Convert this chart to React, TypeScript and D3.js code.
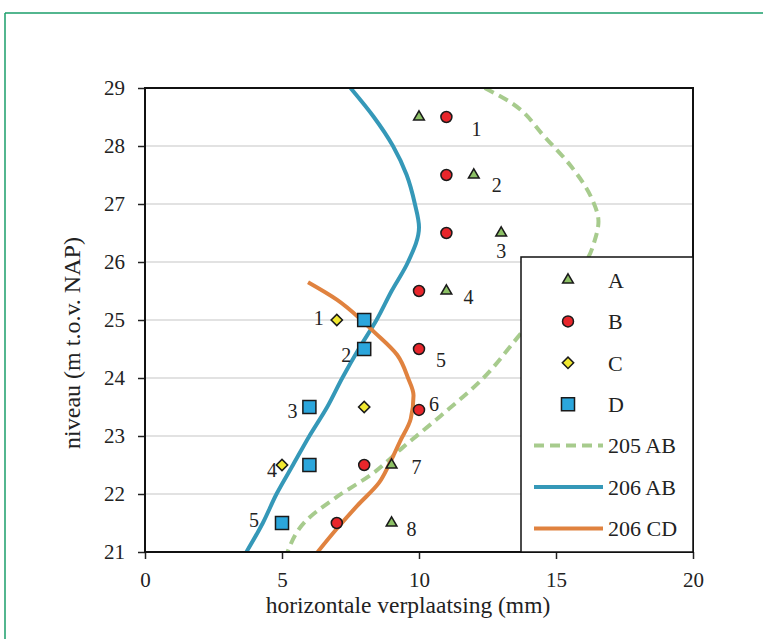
import React, { useEffect, useRef } from 'react';
import * as d3 from 'd3';

// meetpunten (x = verplaatsing mm, y = niveau m NAP)
const seriesA = [
  { x: 10, y: 28.5 }, { x: 12, y: 27.5 }, { x: 13, y: 26.5 }, { x: 11, y: 25.5 },
  { x: 9, y: 22.5 }, { x: 9, y: 21.5 },
];
const seriesB = [
  { x: 11, y: 28.5 }, { x: 11, y: 27.5 }, { x: 11, y: 26.5 }, { x: 10, y: 25.5 },
  { x: 10, y: 24.5 }, { x: 10, y: 23.45 }, { x: 8, y: 22.5 }, { x: 7, y: 21.5 },
];
const seriesC = [{ x: 7, y: 25 }, { x: 8, y: 23.5 }, { x: 5, y: 22.5 }];
const seriesD = [
  { x: 8, y: 25 }, { x: 8, y: 24.5 }, { x: 6, y: 23.5 }, { x: 6, y: 22.5 }, { x: 5, y: 21.5 },
];

// berekende lijnen
const line205AB = [
  { x: 12.4, y: 29 }, { x: 13.35, y: 28.75 }, { x: 14.6, y: 28.15 }, { x: 15.55, y: 27.65 },
  { x: 16.3, y: 27.1 }, { x: 16.55, y: 26.7 }, { x: 16.4, y: 26.35 }, { x: 16.2, y: 26.1 },
  { x: 15.4, y: 25.6 }, { x: 14.3, y: 25.1 }, { x: 13.6, y: 24.7 }, { x: 12.35, y: 24.0 },
  { x: 10.8, y: 23.35 }, { x: 9.4, y: 22.8 }, { x: 8.3, y: 22.35 }, { x: 7.0, y: 21.95 },
  { x: 5.9, y: 21.55 }, { x: 5.2, y: 21 },
];
const line206AB = [
  { x: 7.5, y: 29 }, { x: 8.35, y: 28.5 }, { x: 9.05, y: 28 }, { x: 9.55, y: 27.5 },
  { x: 9.85, y: 27 }, { x: 10.0, y: 26.6 }, { x: 9.6, y: 26 }, { x: 9.0, y: 25.5 },
  { x: 8.45, y: 25 }, { x: 7.8, y: 24.5 }, { x: 7.2, y: 24 }, { x: 6.65, y: 23.5 },
  { x: 6.0, y: 23 }, { x: 5.4, y: 22.5 }, { x: 4.8, y: 22 }, { x: 4.3, y: 21.5 }, { x: 3.7, y: 21 },
];
const line206CD = [
  { x: 5.95, y: 25.65 }, { x: 7.0, y: 25.35 }, { x: 7.9, y: 25.0 }, { x: 8.35, y: 24.8 },
  { x: 9.2, y: 24.4 }, { x: 9.6, y: 24.0 }, { x: 9.8, y: 23.7 }, { x: 9.7, y: 23.3 },
  { x: 9.3, y: 22.9 }, { x: 8.9, y: 22.5 }, { x: 8.55, y: 22.2 }, { x: 7.75, y: 21.8 },
  { x: 7.0, y: 21.4 }, { x: 6.3, y: 21 },
];

const xTicks = [0, 5, 10, 15, 20];
const yTicks = [21, 22, 23, 24, 25, 26, 27, 28, 29];

// nummering bij de punten: [reeks, index, tekst, dx, dy]
const pointLabels: [string, number, string, number, number][] = [
  ['B', 0, '1', 30, 12], ['A', 1, '2', 23, 10], ['A', 2, '3', 0, 18], ['A', 3, '4', 22, 6],
  ['B', 4, '5', 22, 11], ['B', 5, '6', 15, -6], ['A', 4, '7', 25, 2], ['A', 5, '8', 20, 6],
  ['C', 0, '1', -18, -2], ['D', 1, '2', -18, 6], ['D', 2, '3', -17, 4], ['C', 2, '4', -10, 5],
  ['D', 4, '5', -28, -3],
];

const App: React.FC = () => {
  const ref = useRef<SVGSVGElement | null>(null);

  useEffect(() => {
    if (!ref.current) return;
    const svg = d3.select(ref.current);
    svg.selectAll('*').remove();
    const font = '"Liberation Serif", "Times New Roman", serif';

    const left = 145, right = 693, top = 88, bottom = 552;
    const x = d3.scaleLinear().domain([0, 20]).range([left, right]);
    const y = d3.scaleLinear().domain([21, 29]).range([bottom, top]);

    // groene kader
    svg.append('line').attr('x1', 5).attr('x2', 763).attr('y1', 13).attr('y2', 13)
      .attr('stroke', '#1a9e6a').attr('stroke-width', 1.5);
    svg.append('line').attr('x1', 5).attr('x2', 5).attr('y1', 13).attr('y2', 639)
      .attr('stroke', '#1a9e6a').attr('stroke-width', 1.5);

    // rasterlijnen
    svg.append('g').selectAll('line').data(yTicks.filter(t => t > 21 && t < 29)).enter()
      .append('line')
      .attr('x1', left).attr('x2', right)
      .attr('y1', d => y(d)).attr('y2', d => y(d))
      .attr('stroke', '#d9d9d9').attr('stroke-width', 1.5);

    // assen
    const yAxis = svg.append('g').attr('transform', `translate(${left},0)`)
      .call(d3.axisLeft(y).tickValues(yTicks).tickSize(7).tickFormat(d3.format('d')));
    const xAxis = svg.append('g').attr('transform', `translate(0,${bottom})`)
      .call(d3.axisBottom(x).tickValues(xTicks).tickSize(7).tickFormat(d3.format('d')));
    [yAxis, xAxis].forEach(a => {
      a.select('.domain').remove();
      a.selectAll('line').attr('stroke', '#222').attr('stroke-width', 1.5);
      a.selectAll('text').attr('fill', '#222')
        .style('font-family', font).style('font-size', '21px');
    });
    yAxis.selectAll('text').attr('x', -20);
    xAxis.selectAll('text').attr('y', 20);

    svg.append('defs').append('clipPath').attr('id', 'plotclip')
      .append('rect').attr('x', left).attr('y', top).attr('width', right - left).attr('height', bottom - top);

    const line = d3.line<{ x: number; y: number }>()
      .x(d => x(d.x)).y(d => y(d.y)).curve(d3.curveMonotoneY);

    const lines = svg.append('g').attr('clip-path', 'url(#plotclip)');
    lines.append('path').datum(line205AB).attr('d', line).attr('fill', 'none')
      .attr('stroke', '#a7cb8d').attr('stroke-width', 4).attr('stroke-dasharray', '10,6');
    lines.append('path').datum(line206AB).attr('d', line).attr('fill', 'none')
      .attr('stroke', '#3598b8').attr('stroke-width', 4);
    lines.append('path').datum(line206CD).attr('d', line).attr('fill', 'none')
      .attr('stroke', '#e0823f').attr('stroke-width', 4);

    // plotrand
    svg.append('rect').attr('x', left).attr('y', top).attr('width', right - left).attr('height', bottom - top)
      .attr('fill', 'none').attr('stroke', '#111').attr('stroke-width', 2);

    const sym: Record<string, { type: d3.SymbolType; size: number; fill: string; rot: number }> = {
      A: { type: d3.symbolTriangle, size: 50, fill: '#8cc065', rot: 0 },
      B: { type: d3.symbolCircle, size: 95, fill: '#e8262b', rot: 0 },
      C: { type: d3.symbolSquare, size: 64, fill: '#f0e830', rot: 45 },
      D: { type: d3.symbolSquare, size: 170, fill: '#2ba6dc', rot: 0 },
    };
    const allSeries: Record<string, { x: number; y: number }[]> = {
      A: seriesA, B: seriesB, C: seriesC, D: seriesD,
    };

    const drawSym = (g: d3.Selection<SVGGElement, unknown, null, undefined>, key: string, px: number, py: number) => {
      const s = sym[key];
      g.append('path')
        .attr('d', d3.symbol().type(s.type).size(s.size)()!)
        .attr('transform', `translate(${px},${py}) rotate(${s.rot})`)
        .attr('fill', s.fill).attr('stroke', '#1a1a1a').attr('stroke-width', 1.5);
    };

    // legenda
    const lg = svg.append('g');
    lg.append('rect').attr('x', 521).attr('y', 257).attr('width', 172).attr('height', 295)
      .attr('fill', '#fff').attr('stroke', '#111').attr('stroke-width', 1.5);
    const ly = (i: number) => 280 + i * 41.4;
    ['A', 'B', 'C', 'D'].forEach((k, i) => {
      drawSym(lg, k, 568, ly(i));
      lg.append('text').attr('x', 608).attr('y', ly(i)).attr('dy', '0.35em')
        .attr('font-family', font).attr('font-size', 22).attr('fill', '#222').text(k);
    });
    const legendLines = [
      { name: '205 AB', color: '#a7cb8d', dash: '10,6' },
      { name: '206 AB', color: '#3598b8', dash: null },
      { name: '206 CD', color: '#e0823f', dash: null },
    ];
    legendLines.forEach((l, j) => {
      const yy = ly(4 + j);
      lg.append('line').attr('x1', 534).attr('x2', 603).attr('y1', yy).attr('y2', yy)
        .attr('stroke', l.color).attr('stroke-width', 4)
        .attr('stroke-dasharray', l.dash);
      lg.append('text').attr('x', 608).attr('y', yy).attr('dy', '0.35em')
        .attr('font-family', font).attr('font-size', 22).attr('fill', '#222').text(l.name);
    });

    // meetpunten
    const pts = svg.append('g');
    (['A', 'B', 'C', 'D'] as const).forEach(k => {
      allSeries[k].forEach(p => drawSym(pts, k, x(p.x), y(p.y)));
    });

    // nummers
    pointLabels.forEach(([k, i, t, dx, dy]) => {
      const p = allSeries[k][i];
      svg.append('text').attr('x', x(p.x) + dx).attr('y', y(p.y) + dy)
        .attr('text-anchor', 'middle').attr('dy', '0.35em')
        .attr('font-family', font).attr('font-size', 20).attr('fill', '#222').text(t);
    });

    // astitels
    svg.append('text').attr('x', 408).attr('y', 613).attr('text-anchor', 'middle')
      .attr('font-family', font).attr('font-size', 23.5).attr('fill', '#222')
      .text('horizontale verplaatsing (mm)');
    svg.append('text').attr('transform', 'translate(80,343) rotate(-90)')
      .attr('text-anchor', 'middle')
      .attr('font-family', font).attr('font-size', 24).attr('fill', '#222')
      .text('niveau (m t.o.v. NAP)');
  }, []);

  return (
    <svg ref={ref} width={763} height={639}
      style={{ position: 'absolute', left: 0, top: 0, background: '#fff' }} />
  );
};

export default App;
